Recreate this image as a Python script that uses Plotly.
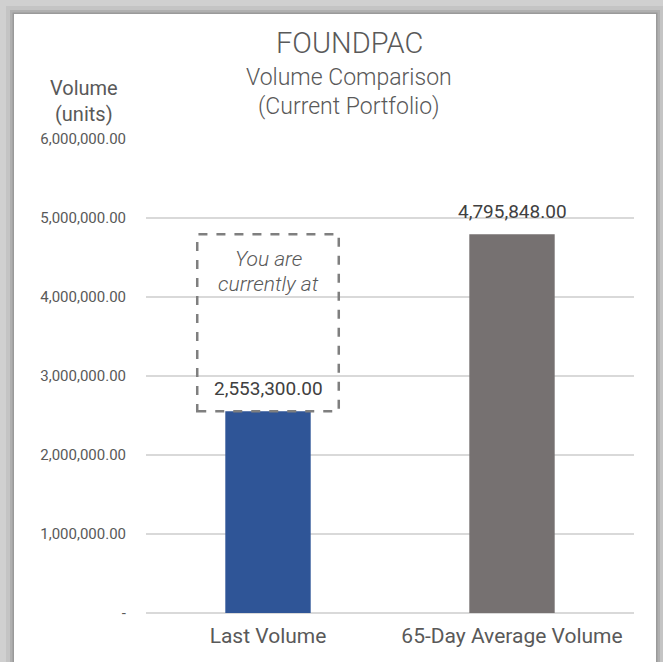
import plotly.graph_objects as go

categories = ["Last Volume", "65-Day Average Volume"]
values = [2553300.00, 4795848.00]
bar_colors = ["#2F5597", "#767171"]
tick_vals = [0, 1000000, 2000000, 3000000, 4000000, 5000000, 6000000]
tick_text = ["-", "1,000,000.00", "2,000,000.00", "3,000,000.00", "4,000,000.00", "5,000,000.00", "6,000,000.00"]

W, H = 663, 662
L, R, T, B = 146, 29, 139, 49
PW, PH = W - L - R, H - T - B


def px(x):
    return (x - L) / PW


def py(y):
    return (H - B - y) / PH


TXT = "#595959"

fig = go.Figure()
fig.add_trace(go.Bar(
    x=categories, y=values, marker=dict(color=bar_colors, line=dict(width=0)),
    width=0.35, textposition="none", hoverinfo="skip",
))

shapes = []
# frame shadow
shapes.append(dict(type="rect", xref="paper", yref="paper", x0=px(6), x1=px(663), y0=py(667), y1=py(6),
                   fillcolor="#c4c4c4", line=dict(width=0), layer="below"))
shapes.append(dict(type="rect", xref="paper", yref="paper", x0=px(10), x1=px(660), y0=py(667), y1=py(10),
                   fillcolor="#b0b0b0", line=dict(width=0), layer="below"))
shapes.append(dict(type="rect", xref="paper", yref="paper", x0=px(12.5), x1=px(657.5), y0=py(667), y1=py(12.5),
                   fillcolor="#9a9a9a", line=dict(width=0), layer="below"))
shapes.append(dict(type="rect", xref="paper", yref="paper", x0=px(14), x1=px(656), y0=py(667), y1=py(14),
                   fillcolor="white", line=dict(width=0), layer="below"))
# dashed callout box spanning from last volume to average volume
shapes.append(dict(type="rect", xref="x", yref="y", x0=-0.29, x1=0.29, y0=values[0], y1=values[1],
                   line=dict(color="#7f7f7f", width=2.5, dash="dash"), fillcolor="rgba(0,0,0,0)", layer="above"))

annotations = [
    dict(text="FOUNDPAC", x=px(349), y=py(43), xref="paper", yref="paper", showarrow=False,
         font=dict(family="Roboto", size=29, color=TXT, weight=300), xanchor="center", yanchor="middle"),
    dict(text="Volume Comparison", x=px(349), y=py(77), xref="paper", yref="paper", showarrow=False,
         font=dict(family="Roboto", size=23, color=TXT, weight=300), xanchor="center", yanchor="middle"),
    dict(text="(Current Portfolio)", x=px(349), y=py(107), xref="paper", yref="paper", showarrow=False,
         font=dict(family="Roboto", size=23, color=TXT, weight=300), xanchor="center", yanchor="middle"),
    dict(text="Volume", x=px(84), y=py(88), xref="paper", yref="paper", showarrow=False,
         font=dict(family="Roboto", size=20, color=TXT), xanchor="center", yanchor="middle"),
    dict(text="(units)", x=px(84), y=py(114), xref="paper", yref="paper", showarrow=False,
         font=dict(family="Roboto", size=20, color=TXT), xanchor="center", yanchor="middle"),
    dict(text="<i>You are</i>", x=0, y=py(259), xref="x", yref="paper", showarrow=False,
         font=dict(family="Roboto", size=21, color=TXT, weight=300), xanchor="center", yanchor="middle"),
    dict(text="<i>currently at</i>", x=0, y=py(284), xref="x", yref="paper", showarrow=False,
         font=dict(family="Roboto", size=21, color=TXT, weight=300), xanchor="center", yanchor="middle"),
]
for c, v in zip(categories, values):
    annotations.append(dict(text=f"{v:,.2f}", x=c, y=v, xref="x", yref="y", showarrow=False,
                            yanchor="middle", yshift=23, xanchor="center",
                            font=dict(family="Roboto", size=19, color="#404040")))

fig.update_layout(
    width=W, height=H, margin=dict(l=L, r=R, t=T, b=B, pad=0),
    paper_bgcolor="#d0d0d0", plot_bgcolor="rgba(0,0,0,0)",
    showlegend=False, shapes=shapes, annotations=annotations,
)
fig.update_xaxes(showgrid=False, showline=False, ticks="", zeroline=False,
                 tickfont=dict(family="Roboto", size=21, color=TXT), ticklabelstandoff=8)
fig.update_yaxes(range=[0, 6000000], tickvals=tick_vals, ticktext=tick_text, showgrid=True,
                 gridcolor="#d9d9d9", gridwidth=1.5, zeroline=True, zerolinecolor="#d9d9d9", zerolinewidth=1.5,
                 showline=False, ticks="", tickfont=dict(family="Roboto", size=15, color=TXT),
                 ticklabelstandoff=19)

fig.write_html("out.html", config={"displayModeBar": False},
               post_script="document.body.style.margin='0';document.body.style.overflow='hidden';")
